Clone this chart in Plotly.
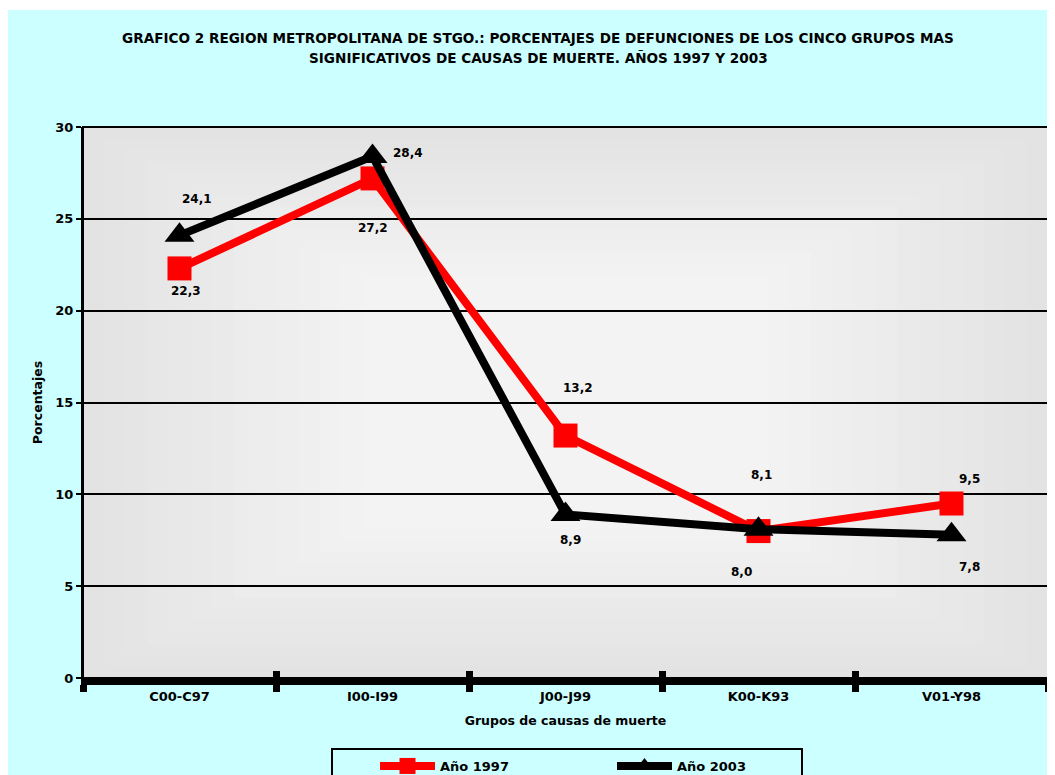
import plotly.graph_objects as go

categories = ["C00-C97", "I00-I99", "J00-J99", "K00-K93", "V01-Y98"]
serie_1997 = [22.3, 27.2, 13.2, 8.0, 9.5]
serie_2003 = [24.1, 28.4, 8.9, 8.1, 7.8]
series_names = ["Año 1997", "Año 2003"]
y_ticks = [0, 5, 10, 15, 20, 25, 30]

title_lines = ["GRAFICO 2 REGION METROPOLITANA DE STGO.: PORCENTAJES DE DEFUNCIONES DE LOS CINCO GRUPOS MAS",
               "SIGNIFICATIVOS DE CAUSAS DE MUERTE. AÑOS 1997 Y 2003"]

# label offsets (pixels) for each data label
off_1997 = [(6, -23), (0, -50), (12, 48), (-17, -41), (18, 25)]
off_2003 = [(17, 36), (35, 3), (5, -25), (3, 54), (18, -32)]

# page body has an 8px margin; work in screen pixels of the 1055x775 view
OFF = 8
SW, SH = 1055, 775
W, H = SW - OFF, SH - OFF
PL, PT, PR, PB = 83, 127, 1048, 678  # plot area in screen pixels
L, T = PL - OFF, PT - OFF
R = W - (PR - OFF)
B = H - (PB - OFF)
pw = PR - PL
ph = PB - PT


def px(p):
    return (p - PL) / pw


def py(p):
    return (PB - p) / ph


BOLD = "DejaVu Sans, Verdana, sans-serif"

boundaries = [i - 0.5 for i in range(len(categories) + 1)]

fig = go.Figure()
fig.add_trace(go.Scatter(
    x=categories, y=serie_1997, name="<b>" + series_names[0] + "</b>", mode="lines+markers",
    line=dict(color="#FF0000", width=8),
    marker=dict(symbol="square", size=24, color="#FF0000"),
))
fig.add_trace(go.Scatter(
    x=categories, y=serie_2003, name="<b>" + series_names[1] + "</b>", mode="lines+markers",
    line=dict(color="#000000", width=8),
    marker=dict(symbol="triangle-up", size=26, color="#000000"),
))
# invisible helper trace so the overlaid boundary-tick axis is drawn
fig.add_trace(go.Scatter(
    x=boundaries, y=[None] * len(boundaries), xaxis="x2", mode="markers",
    marker=dict(opacity=0), showlegend=False, hoverinfo="skip",
))

lab_font = dict(family=BOLD, size=12, color="#000000")
for vals, offs in ((serie_1997, off_1997), (serie_2003, off_2003)):
    for c, v, (dx, dy) in zip(categories, vals, offs):
        fig.add_annotation(x=c, y=v, text="<b>" + f"{v:.1f}".replace(".", ",") + "</b>",
                           showarrow=False, xshift=dx, yshift=dy, font=lab_font)

# title as two lines
for line, ypix in zip(title_lines, (38, 58)):
    fig.add_annotation(xref="paper", yref="paper", x=px(538), y=py(ypix), text="<b>" + line + "</b>",
                       showarrow=False, xanchor="center", yanchor="middle",
                       font=dict(family=BOLD, size=13.6, color="#000000"))

# gradient-like plot background using concentric rectangles
n = 14
c0, c1 = 0xE3, 0xF3
shapes = []
for i in range(n):
    f = i / (n - 1)
    inset_x = 0.29 * f
    inset_y = 0.27 * f
    g = int(round(c0 + (c1 - c0) * f))
    shapes.append(dict(type="rect", xref="paper", yref="paper",
                       x0=inset_x, x1=1 - inset_x, y0=inset_y, y1=1 - inset_y,
                       fillcolor=f"rgb({g},{g},{g})", line=dict(width=0), layer="below"))

# thin white strip at top
shapes.append(dict(type="rect", xref="paper", yref="paper",
                   x0=px(0), x1=px(SW + 5), y0=py(10), y1=py(0),
                   fillcolor="white", line=dict(width=0), layer="above"))
# border of plot area
shapes.append(dict(type="rect", xref="paper", yref="paper", x0=0, x1=1, y0=0, y1=1,
                   line=dict(color="black", width=2), fillcolor="rgba(0,0,0,0)", layer="above"))
# legend box
shapes.append(dict(type="rect", xref="paper", yref="paper", x0=px(332), x1=px(802),
                   y0=py(800), y1=py(749), line=dict(color="black", width=2),
                   fillcolor="#CCFFFF", layer="above"))

fig.update_layout(
    width=W, height=H,
    margin=dict(l=L, r=R, t=T, b=B, autoexpand=False),
    paper_bgcolor="#CCFFFF",
    plot_bgcolor="#E6E6E6",
    shapes=shapes,
    font=dict(family=BOLD, size=12, color="#000000"),
    showlegend=True,
    legend=dict(orientation="h", x=px(375), xanchor="left", y=py(751),
                yanchor="top", bgcolor="rgba(0,0,0,0)", borderwidth=0,
                entrywidth=167, itemwidth=55, traceorder="normal",
                font=dict(family=BOLD, size=13, color="#000000")),
    xaxis=dict(
        title=dict(text="<b>Grupos de causas de muerte</b>", standoff=16,
                   font=dict(family=BOLD, size=12.5)),
        tickfont=dict(family=BOLD, size=13),
        tickvals=categories, ticktext=[f"<b>{c}</b>" for c in categories],
        showline=True, linecolor="black", linewidth=7,
        ticks="outside", tickson="boundaries", ticklen=7, tickwidth=7, tickcolor="black",
        showgrid=False, range=[-0.5, 4.5], zeroline=False,
    ),
    xaxis2=dict(
        overlaying="x", anchor="y", side="bottom", range=[-0.5, 4.5],
        tickvals=boundaries, showticklabels=False,
        ticks="inside", ticklen=7, tickwidth=7, tickcolor="black",
        showgrid=False, zeroline=False, showline=False,
    ),
    yaxis=dict(
        title=dict(text="<b>Porcentajes</b>", standoff=10,
                   font=dict(family=BOLD, size=12.5)),
        range=[0, 30], tickvals=y_ticks, ticktext=[f"<b>{v}</b>" for v in y_ticks],
        tickfont=dict(family=BOLD, size=13),
        showgrid=True, gridcolor="black", gridwidth=2,
        showline=True, linecolor="black", linewidth=2,
        ticks="outside", ticklen=5, tickwidth=2, tickcolor="black",
        zeroline=False,
    ),
)

fig.write_html("out.html")
